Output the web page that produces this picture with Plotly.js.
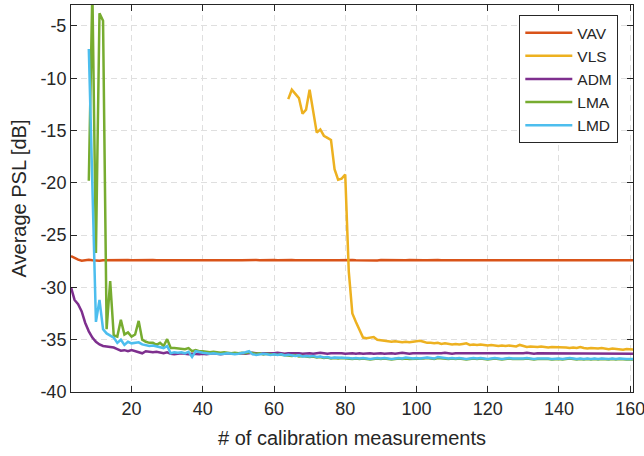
<!DOCTYPE html>
<html>
<head>
<meta charset="utf-8">
<script src="https://cdn.plot.ly/plotly-3.0.1.min.js"></script>
<style>html,body{margin:0;padding:0;background:#fff;}#chart{width:644px;height:456px;}</style>
</head>
<body>
<div id="chart"></div>
<script>
// ---- data ----
const seriesNames = ["VAV", "VLS", "ADM", "LMA", "LMD"];
const xTickVals = [20, 40, 60, 80, 100, 120, 140, 160];
const yTickVals = [-40, -35, -30, -25, -20, -15, -10, -5];
const yTickText = ["-40", "-35", "-30", "-25", "-20", "-15", "-10", "-5"];

// first number of calibration measurements for each series
const vavStart = 3;
const vlsStart = 64;
const admStart = 3;
const lmaStart = 8;
const lmdStart = 8;

const vav = [
  -27.00,-27.20,-27.35,-27.45,-27.40,-27.36,-27.40,-27.44,-27.45,-27.40,
  -27.39,-27.41,-27.38,-27.40,-27.42,-27.38,-27.39,-27.41,-27.40,-27.37,
  -27.40,-27.42,-27.39,-27.38,-27.40,-27.41,-27.39,-27.40,-27.38,-27.40,
  -27.41,-27.40,-27.38,-27.39,-27.41,-27.40,-27.39,-27.40,-27.42,-27.39,
  -27.40,-27.38,-27.40,-27.41,-27.39,-27.40,-27.38,-27.40,-27.41,-27.39,
  -27.40,-27.40,-27.38,-27.41,-27.39,-27.40,-27.42,-27.39,-27.40,-27.38,
  -27.40,-27.41,-27.39,-27.40,-27.38,-27.40,-27.41,-27.40,-27.39,-27.40,
  -27.41,-27.39,-27.40,-27.38,-27.40,-27.41,-27.39,-27.40,-27.40,-27.38,
  -27.40,-27.41,-27.39,-27.40,-27.38,-27.40,-27.42,-27.39,-27.40,-27.40,
  -27.38,-27.41,-27.39,-27.40,-27.40,-27.38,-27.40,-27.41,-27.39,-27.40,
  -27.40,-27.38,-27.41,-27.39,-27.40,-27.40,-27.42,-27.39,-27.40,-27.38,
  -27.40,-27.41,-27.39,-27.40,-27.38,-27.40,-27.41,-27.40,-27.39,-27.40,
  -27.40,-27.38,-27.41,-27.39,-27.40,-27.40,-27.38,-27.40,-27.41,-27.39,
  -27.40,-27.40,-27.38,-27.41,-27.39,-27.40,-27.42,-27.39,-27.40,-27.40,
  -27.38,-27.40,-27.41,-27.39,-27.40,-27.38,-27.40,-27.41,-27.40,-27.39,
  -27.40,-27.40,-27.38,-27.41,-27.39,-27.40,-27.40,-27.39,-27.40
];

const vls = [
  -12.0,-11.1,-11.5,-11.9,-13.4,-13.0,-11.1,-13.1,-15.2,-14.9,
  -15.5,-15.7,-15.9,-18.7,-19.7,-19.6,-19.2,-28.5,-32.5,-33.3,
  -34.0,-34.8,-34.85,-34.8,-34.75,-35.0,-35.05,-35.1,-35.15,-35.2,
  -35.15,-35.2,-35.25,-35.2,-35.25,-35.2,-35.15,-35.1,-35.2,-35.3,
  -35.3,-35.35,-35.3,-35.4,-35.35,-35.4,-35.45,-35.4,-35.45,-35.4,
  -35.35,-35.5,-35.45,-35.5,-35.45,-35.5,-35.55,-35.5,-35.55,-35.6,
  -35.55,-35.6,-35.55,-35.6,-35.65,-35.5,-35.6,-35.7,-35.65,-35.7,
  -35.7,-35.65,-35.7,-35.75,-35.7,-35.7,-35.75,-35.7,-35.75,-35.8,
  -35.75,-35.8,-35.7,-35.8,-35.85,-35.8,-35.85,-35.85,-35.8,-35.85,
  -35.9,-35.85,-35.9,-35.9,-35.95,-35.9,-35.95,-35.95
];

const adm = [
  -30.0,-31.2,-31.6,-32.3,-33.4,-34.2,-34.8,-35.2,-35.45,-35.6,
  -35.65,-35.7,-35.75,-35.9,-36.05,-36.0,-36.1,-36.0,-36.1,-36.25,
  -36.3,-36.1,-36.15,-36.2,-36.15,-36.25,-36.3,-36.2,-36.35,-36.4,
  -36.35,-36.3,-36.35,-36.4,-36.35,-36.4,-36.4,
  -36.35,-36.4,-36.35,-36.3,-36.35,-36.4,-36.35,-36.3,-36.35,-36.3,
  -36.35,-36.3,-36.35,-36.3,-36.25,-36.3,-36.35,-36.3,-36.3,-36.35,
  -36.3,-36.25,-36.3,-36.35,-36.3,-36.3,-36.25,-36.3,-36.35,-36.3,
  -36.3,-36.35,-36.3,-36.25,-36.3,-36.35,-36.3,-36.3,-36.25,-36.3,
  -36.35,-36.3,-36.3,-36.35,-36.3,-36.35,-36.3,-36.3,-36.35,-36.3,
  -36.3,-36.35,-36.3,-36.3,-36.35,-36.3,-36.25,-36.3,-36.35,-36.3,
  -36.3,-36.35,-36.3,-36.3,-36.35,-36.3,-36.35,-36.3,-36.25,-36.3,
  -36.35,-36.3,-36.3,-36.35,-36.3,-36.35,-36.3,-36.3,-36.35,-36.3,
  -36.3,-36.35,-36.3,-36.35,-36.3,-36.3,-36.35,-36.3,-36.3,-36.35,
  -36.3,-36.25,-36.3,-36.35,-36.3,-36.3,-36.35,-36.3,-36.35,-36.3,
  -36.35,-36.3,-36.3,-36.35,-36.3,-36.35,-36.3,-36.3,-36.35,-36.35,
  -36.3,-36.35,-36.35,-36.3,-36.35,-36.35,-36.3,-36.35,-36.35,-36.35,
  -36.35,-36.35
];

const lma = [
  -19.8,-1.5,-26.7,-3.8,-4.5,-34.0,-29.4,-34.6,-34.7,-33.1,
  -34.5,-34.3,-34.7,-34.5,-33.2,-35.0,-35.2,-35.3,-35.3,-35.5,
  -35.3,-35.6,-34.95,-35.8,-35.8,-35.85,-35.9,-35.9,-35.8,-36.1,
  -36.0,-36.1,
  -36.1,-36.15,-36.2,-36.15,-36.2,-36.25,-36.2,-36.25,-36.3,-36.25,
  -36.3,-36.25,-36.3,-36.2,-36.3,-36.35,-36.3,-36.4,-36.35,-36.4,
  -36.4,-36.45,-36.45,-36.5,-36.5,-36.55,-36.5,-36.6,-36.55,-36.6,
  -36.65,-36.6,-36.7,-36.65,-36.75,-36.7,-36.8,-36.75,-36.8,-36.75,
  -36.8,-36.8,-36.85,-36.8,-36.85,-36.8,-36.85,-36.9,-36.85,-36.8,
  -36.85,-36.8,-36.85,-36.9,-36.85,-36.8,-36.85,-36.8,-36.85,-36.85,
  -36.8,-36.85,-36.8,-36.75,-36.8,-36.85,-36.75,-36.8,-36.8,-36.85,
  -36.8,-36.85,-36.8,-36.85,-36.9,-36.85,-36.8,-36.85,-36.8,-36.85,
  -36.9,-36.85,-36.8,-36.85,-36.9,-36.85,-36.8,-36.85,-36.85,-36.9,
  -36.85,-36.8,-36.85,-36.9,-36.85,-36.85,-36.8,-36.85,-36.9,-36.85,
  -36.85,-36.9,-36.85,-36.8,-36.85,-36.9,-36.85,-36.9,-36.85,-36.9,
  -36.85,-36.9,-36.85,-36.9,-36.9,-36.85,-36.9,-36.85,-36.9,-36.9,
  -36.9,-36.9
];

const lmd = [
  -7.2,-20.0,-33.3,-31.2,-34.0,-34.4,-34.6,-34.8,-35.3,-35.0,
  -35.5,-35.2,-35.35,-35.3,-35.25,-35.45,-35.55,-35.6,-35.55,-35.65,
  -35.75,-35.8,-35.6,-36.3,-36.2,-36.25,-36.2,-36.3,-36.15,-36.65,
  -36.1,-36.2,
  -36.25,-36.3,-36.35,-36.3,-36.35,-36.4,-36.35,-36.3,-36.35,-36.4,
  -36.35,-36.3,-36.2,-36.1,-36.4,-36.45,-36.4,-36.35,-36.4,-36.45,
  -36.4,-36.45,-36.4,-36.5,-36.45,-36.5,-36.55,-36.5,-36.6,-36.55,
  -36.6,-36.55,-36.65,-36.6,-36.7,-36.65,-36.75,-36.7,-36.7,-36.75,
  -36.7,-36.75,-36.8,-36.75,-36.8,-36.75,-36.8,-36.85,-36.8,-36.75,
  -36.8,-36.75,-36.8,-36.85,-36.8,-36.75,-36.8,-36.7,-36.75,-36.8,
  -36.75,-36.8,-36.75,-36.7,-36.75,-36.8,-36.65,-36.7,-36.75,-36.8,
  -36.75,-36.8,-36.75,-36.8,-36.85,-36.8,-36.75,-36.8,-36.75,-36.8,
  -36.85,-36.8,-36.75,-36.8,-36.85,-36.8,-36.75,-36.8,-36.8,-36.85,
  -36.8,-36.75,-36.8,-36.85,-36.8,-36.8,-36.75,-36.8,-36.85,-36.8,
  -36.8,-36.85,-36.8,-36.75,-36.8,-36.85,-36.8,-36.85,-36.8,-36.85,
  -36.8,-36.85,-36.8,-36.85,-36.85,-36.8,-36.85,-36.8,-36.85,-36.85,
  -36.85,-36.85
];

// ---- drawing ----
const colors = ["#D95319", "#EDB120", "#7E2F8E", "#77AC30", "#4DBEEE"];
const starts = [vavStart, vlsStart, admStart, lmaStart, lmdStart];
const values = [vav, vls, adm, lma, lmd];

const traces = values.map((arr, k) => ({
  type: "scatter",
  mode: "lines",
  name: seriesNames[k],
  x: arr.map((_, i) => starts[k] + i),
  y: arr,
  line: {color: colors[k], width: 2.5},
  hoverinfo: "skip"
}));

const axisColor = "#262626";
const font = {family: "Liberation Sans, Arial, Helvetica, sans-serif", color: axisColor};

const layout = {
  width: 644, height: 456,
  margin: {l: 71, r: 11, t: 5, b: 64},
  paper_bgcolor: "#fff", plot_bgcolor: "#fff",
  font: Object.assign({size: 18}, font),
  showlegend: true,
  legend: {
    x: 0.7977, y: 0.974, xanchor: "left", yanchor: "top",
    bgcolor: "#fff", bordercolor: axisColor, borderwidth: 1,
    font: Object.assign({size: 15.5}, font),
    itemwidth: 47
  },
  xaxis: {
    range: [3, 160.8],
    tickvals: xTickVals,
    ticks: "inside", ticklen: 6, tickcolor: axisColor, tickwidth: 1,
    showline: true, linecolor: axisColor, linewidth: 1, mirror: "ticks",
    showgrid: true, gridcolor: "#dfdfdf", gridwidth: 1, griddash: "6px,4px",
    zeroline: false,
    ticklabeloverflow: "allow",
    tickfont: Object.assign({size: 18}, font),
    title: {text: "# of calibration measurements", font: Object.assign({size: 20}, font), standoff: 13}
  },
  yaxis: {
    range: [-40, -3],
    tickvals: yTickVals, ticktext: yTickText,
    ticks: "inside", ticklen: 6, tickcolor: axisColor, tickwidth: 1,
    showline: true, linecolor: axisColor, linewidth: 1, mirror: "ticks",
    showgrid: true, gridcolor: "#dfdfdf", gridwidth: 1, griddash: "6px,4px",
    zeroline: false,
    tickfont: Object.assign({size: 18}, font),
    title: {text: "Average PSL [dB]", font: Object.assign({size: 20}, font), standoff: 8}
  }
};

Plotly.newPlot("chart", traces, layout, {staticPlot: true, displayModeBar: false});
</script>
</body>
</html>
